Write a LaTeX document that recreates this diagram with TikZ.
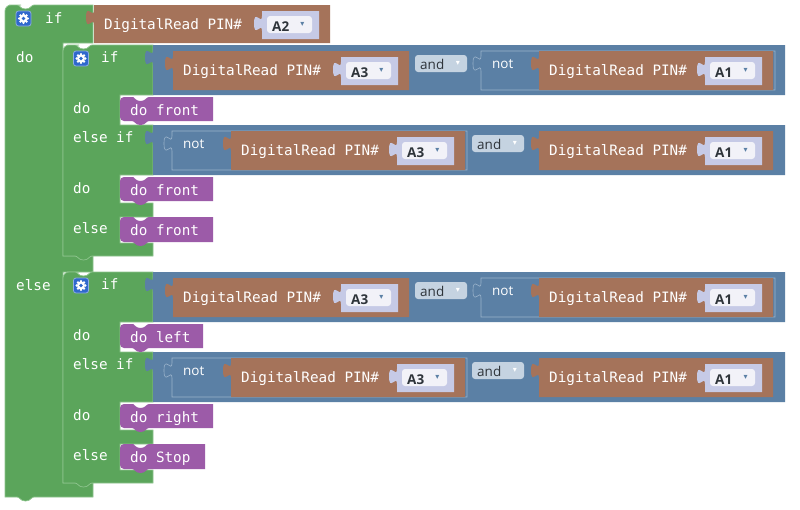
\documentclass[tikz,border=0pt]{standalone}
\usepackage{fontspec}
\newfontfamily\monof{DejaVu Sans Mono}
\newfontfamily\uif{Open Sans}
\newfontfamily\symf{DejaVu Sans}
\definecolor{gc}{HTML}{5BA55B}
\definecolor{gl}{HTML}{8DC48D}
\definecolor{bc}{HTML}{5B80A5}
\definecolor{bl}{HTML}{9BB3CB}
\definecolor{brc}{HTML}{A5735A}
\definecolor{pc}{HTML}{9C5BA8}
\definecolor{lav}{HTML}{C6CAE6}
\definecolor{fld}{HTML}{F2F2F8}
\definecolor{andc}{HTML}{C5D3E1}
\definecolor{gearc}{HTML}{2F68CC}
\definecolor{txtd}{HTML}{2E343A}
\tikzset{
 lbl/.style={inner sep=0pt, anchor=base west, text=white, font=\monof\fontsize{14.3}{16}\selectfont},
 uil/.style={inner sep=0pt, anchor=base west, font=\uif\fontsize{13.5}{15}\selectfont},
 pinl/.style={inner sep=0pt, anchor=base west, text=txtd, font=\uif\bfseries\fontsize{13.5}{15}\selectfont},
 arr/.style={inner sep=0pt, anchor=center, font=\symf\fontsize{8}{9}\selectfont},
 gearbox/.style={draw=gearc!55!white, line width=0.8pt, fill=gearc, rounded corners=2.5pt, minimum size=15pt, inner sep=0pt},
 ifblk/.style={fill=gc, draw=gl, line width=0.7pt},
}
% value block with left output tab
\newcommand\valblk[5]{\begin{scope}[shift={(#1,#2)}]\path[#5] (0,0) -- (#3,0) -- (#3,#4) -- (0,#4) -- (0,20) .. controls (0,10) and (-8,28) .. (-8,12.5) .. controls (-8,-3) and (0,15) .. (0,5) -- cycle;\end{scope}}
% dropdown shadow block: name x y label
\newcommand\ddown[4]{%
 \valblk{#2}{#3}{57}{28}{fill=lav}
 \path[fill=fld, rounded corners=3pt] (#2+5,#3+5) rectangle (#2+50,#3+22);
 \node[pinl] (#1t) at (#2+10,#3+20) {#4};
 \node[arr, text=bc] (#1a) at (#2+40.5,#3+13) {▾};
}
% DigitalRead block: name x y w h pin
\newcommand\pinblk[6]{%
 \valblk{#2}{#3}{#4}{#5}{fill=brc}
 \node[lbl] (#1) at (#2+10,#3+24) {DigitalRead PIN\#};
 \ddown{#1d}{#2+#4-68}{#3+6}{#6}
}
% and field: name x y
\newcommand\andbox[3]{%
 \path[fill=andc, rounded corners=3pt] (#2,#3) rectangle (#2+52,#3+17);
 \node[uil, text=txtd] (#1) at (#2+5,#3+14) {and};
 \node[arr, text=white] (#1a) at (#2+43,#3+8) {▾};
}
% not block: name x y w h
\newcommand\notblk[5]{%
 \valblk{#2}{#3}{#4}{#5}{fill=bc, draw=bl, line width=0.6pt}
 \node[uil, text=white] (#1) at (#2+11,#3+17) {not};
}
% statement block: name x y w h text
\newcommand\stmtblk[6]{%
 \begin{scope}[shift={(#2,#3)}]
 \path[fill=pc] (0,8) [rounded corners=4pt] -- (0,0) -- (10,0) [sharp corners] -- (12,0) .. controls (15,0) and (15,4) .. (20.5,4) .. controls (26,4) and (26,0) .. (29,0) -- (#4,0) -- (#4,#5) -- (29,#5) .. controls (26,#5) and (26,#5+4) .. (20.5,#5+4) .. controls (15,#5+4) and (15,#5) .. (12,#5) -- (10,#5) [rounded corners=4pt] -- (0,#5) -- (0,8) -- cycle;
 \end{scope}
 \node[lbl] (#1) at (#2+10,#3+18) {#6};
}
% gear icon: name x y
\newcommand\gearicon[3]{%
 \node[gearbox] (#1) at (#2,#3) {};
 \foreach \a in {0,45,...,315} \fill[white] (#1.center) ++(\a:4.3) circle (1.4);
 \fill[white] (#1.center) circle (4.0);
 \fill[gearc] (#1.center) circle (1.8);
}
% condition: A3 and not A1
\newcommand\condA[2]{%
 \valblk{153}{#2}{632}{50}{fill=bc}
 \pinblk{#1p}{173}{#2+6}{236}{39}{A3}
 \andbox{#1and}{415}{#2+10}
 \notblk{#1not}{481}{#2+6}{294}{39}
 \pinblk{#1q}{539}{#2+6}{234}{39}{A1}
}
% condition: not A3 and A1
\newcommand\condB[2]{%
 \valblk{153}{#2}{632}{50}{fill=bc}
 \notblk{#1not}{172}{#2+6}{295}{39}
 \pinblk{#1p}{231}{#2+6}{234}{39}{A3}
 \andbox{#1and}{472}{#2+10}
 \pinblk{#1q}{539}{#2+6}{234}{39}{A1}
}
% inner if block: name T w1 t1 w2 t2 w3 t3
\newcommand\innerif[8]{%
 \begin{scope}[shift={(63,#2)}]
 \path[ifblk] (0,40) [rounded corners=6pt] -- (0,0) -- (10,0) [sharp corners] -- (12,0) .. controls (15,0) and (15,4) .. (20.5,4) .. controls (26,4) and (26,0) .. (29,0) -- (90,0) -- (90,50) -- (57,50) -- (57,80) -- (90,80) -- (90,130) -- (57,130) -- (57,158) -- (90,158) -- (90,172) -- (57,172) -- (57,198) -- (90,198) -- (90,211) -- (29,211) .. controls (26,211) and (26,215) .. (20.5,215) .. controls (15,215) and (15,211) .. (12,211) -- (0,211) -- cycle;
 \end{scope}
 \gearicon{#1g}{81}{#2+13.5}
 \node[lbl] (#1if) at (101,#2+17) {if};
 \node[lbl] (#1do) at (73,#2+68) {do};
 \node[lbl] (#1elif) at (73,#2+97) {else if};
 \node[lbl] (#1dob) at (73,#2+148) {do};
 \node[lbl] (#1else) at (73,#2+188) {else};
 \condA{#1a}{#2}
 \condB{#1b}{#2+80}
 \stmtblk{#1s1}{120}{#2+52}{#3}{24}{#4}
 \stmtblk{#1s2}{120}{#2+132}{#5}{24}{#6}
 \stmtblk{#1s3}{120}{#2+172}{#7}{25}{#8}
}
\begin{document}
\begin{tikzpicture}[x=1pt,y=-1pt]
\useasboundingbox (0,0) rectangle (800,509);
\fill[white] (0,0) rectangle (800,509);
% outer if block
\begin{scope}[shift={(5,5)}]
\path[ifblk] (0,40) [rounded corners=6pt] -- (0,0) -- (10,0) [sharp corners] -- (12,0) .. controls (15,0) and (15,4) .. (20.5,4) .. controls (26,4) and (26,0) .. (29,0) -- (88,0) -- (88,38) -- (58,38) -- (58,251) -- (88,251) -- (88,267) -- (58,267) -- (58,478) -- (88,478) -- (88,492) -- (29,492) .. controls (26,492) and (26,496) .. (20.5,496) .. controls (15,496) and (15,492) .. (12,492) -- (0,492) -- cycle;
\end{scope}
\gearicon{og}{23.5}{18.5}
\node[lbl] (oif) at (45,23) {if};
\node[lbl] (odo) at (16,62) {do};
\node[lbl] (oelse) at (16,290) {else};
\pinblk{top}{94}{5}{236}{38}{A2}
\innerif{i}{45}{93}{do front}{93}{do front}{93}{do front}
\innerif{j}{272}{83}{do left}{93}{do right}{85}{do Stop}
\end{tikzpicture}
\end{document}
